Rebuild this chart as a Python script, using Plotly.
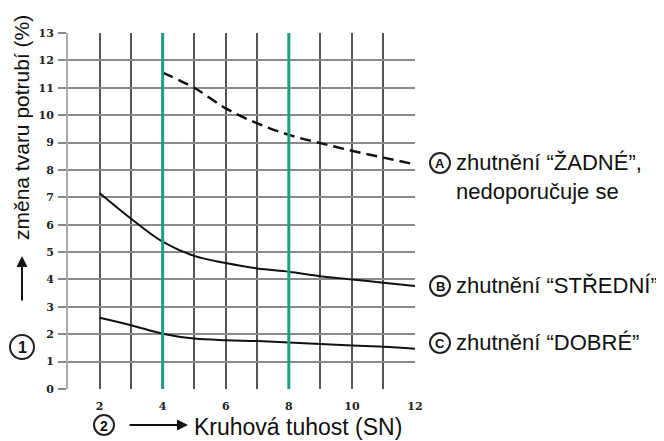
import plotly.graph_objects as go

# ---- data ----
stiffness = [2, 3, 4, 5, 6, 7, 8, 9, 10, 11, 12]
a_x = [4, 5, 6, 7, 8, 9, 10, 11, 12]
a_none = [11.55, 11.0, 10.25, 9.7, 9.28, 8.98, 8.7, 8.45, 8.2]
b_medium = [7.16, 6.22, 5.38, 4.86, 4.6, 4.4, 4.28, 4.12, 4.0, 3.88, 3.76]
c_good = [2.6, 2.33, 2.02, 1.84, 1.78, 1.75, 1.7, 1.64, 1.59, 1.54, 1.47]
x_ticks = [2, 4, 6, 8, 10, 12]
y_ticks = list(range(0, 14))
teal_x = [4, 8]
labels = ["zhutnění “ŽADNÉ”,<br>nedoporučuje se", "zhutnění “STŘEDNÍ”", "zhutnění “DOBRÉ”"]
letters = ["A", "B", "C"]
y_title = "změna tvaru potrubí (%)"
x_title = "Kruhová tuhost (SN)"

OFF = 8  # page body margin
W, H = 664 - OFF, 441 - OFF
L, R, T, B = 68 - OFF, 415 - OFF, 33 - OFF, 389 - OFF


def px(x):
    return (x - OFF - L) / (R - L)


def py(y):
    return (B - (y - OFF)) / (B - T)


fig = go.Figure()
fig.add_trace(go.Scatter(x=a_x, y=a_none, mode="lines",
                         line=dict(color="#111", width=2.5, dash="11px,6px", shape="spline"),
                         showlegend=False))
fig.add_trace(go.Scatter(x=stiffness, y=b_medium, mode="lines",
                         line=dict(color="#111", width=2, shape="spline"), showlegend=False))
fig.add_trace(go.Scatter(x=stiffness, y=c_good, mode="lines",
                         line=dict(color="#111", width=2, shape="spline"), showlegend=False))

shapes = []
for tx in teal_x:
    shapes.append(dict(type="line", xref="x", yref="y", x0=tx, x1=tx, y0=0, y1=13,
                       line=dict(color="#1a9e86", width=3), layer="above"))

annotations = []
FAM = "Liberation Sans, Arial"


def circle(cx, cy, txt, r=10, size=13):
    shapes.append(dict(type="circle", xref="paper", yref="paper",
                       x0=px(cx - r), x1=px(cx + r), y0=py(cy + r), y1=py(cy - r),
                       line=dict(color="#222", width=2), fillcolor="white", layer="above"))
    annotations.append(dict(xref="paper", yref="paper", x=px(cx), y=py(cy + 0.5), text=txt,
                            showarrow=False,
                            font=dict(family=FAM, size=size, color="#111", weight="bold"),
                            xanchor="center", yanchor="middle"))


label_y = [163, 286, 343]
for lt, lab, ly in zip(letters, labels, label_y):
    circle(440, ly, lt, r=10, size=13)
    annotations.append(dict(xref="paper", yref="paper", x=px(454), y=py(ly - 15), text=lab,
                            showarrow=False, font=dict(family=FAM, size=22, color="#111"),
                            xanchor="left", yanchor="top", align="left"))

# axis titles with circled numbers and arrows
circle(22, 347, "1", r=12, size=16)
circle(104, 425, "2", r=10, size=14)
annotations.append(dict(xref="paper", yref="paper", x=px(21), y=py(128), text=y_title,
                        textangle=-90, showarrow=False,
                        font=dict(family=FAM, size=21, color="#111"),
                        xanchor="center", yanchor="middle"))
annotations.append(dict(xref="paper", yref="paper", x=px(192), y=py(427), text=x_title,
                        showarrow=False, font=dict(family=FAM, size=23, color="#111"),
                        xanchor="left", yanchor="middle"))
annotations.append(dict(xref="paper", yref="paper",
                        x=px(22), y=py(256), ax=0, ay=46, text="", showarrow=True,
                        arrowhead=2, arrowsize=1.1, arrowwidth=2, arrowcolor="#111"))
annotations.append(dict(xref="paper", yref="paper",
                        x=px(188), y=py(425), ax=-60, ay=0, text="", showarrow=True,
                        arrowhead=2, arrowsize=1.1, arrowwidth=2, arrowcolor="#111"))

tick_font = dict(family="DejaVu Serif", size=11, color="#222", weight="bold")

fig.update_layout(
    width=W, height=H,
    margin=dict(l=L, r=W - R, t=T, b=H - B, pad=0),
    paper_bgcolor="white", plot_bgcolor="white",
    shapes=shapes, annotations=annotations,
    xaxis=dict(range=[1, 12], tickvals=x_ticks, ticktext=[str(v) for v in x_ticks],
               automargin=False,
               showgrid=True, gridcolor="#555", gridwidth=1.5,
               minor=dict(dtick=1, tick0=0, showgrid=True, gridcolor="#555", gridwidth=1.5),
               zeroline=False, showline=False, ticks="", tickfont=tick_font,
               ticklabelstandoff=9),
    yaxis=dict(range=[0, 13], tickvals=y_ticks, ticktext=[str(v) for v in y_ticks],
               automargin=False,
               showgrid=True, gridcolor="#8a8a8a", gridwidth=1.8,
               zeroline=False, showline=True, linecolor="#aaa", linewidth=2,
               ticks="outside", ticklen=8, tickcolor="#8a8a8a", tickwidth=1.8,
               tickfont=tick_font, ticklabelstandoff=2),
)

fig.write_html("out.html")
